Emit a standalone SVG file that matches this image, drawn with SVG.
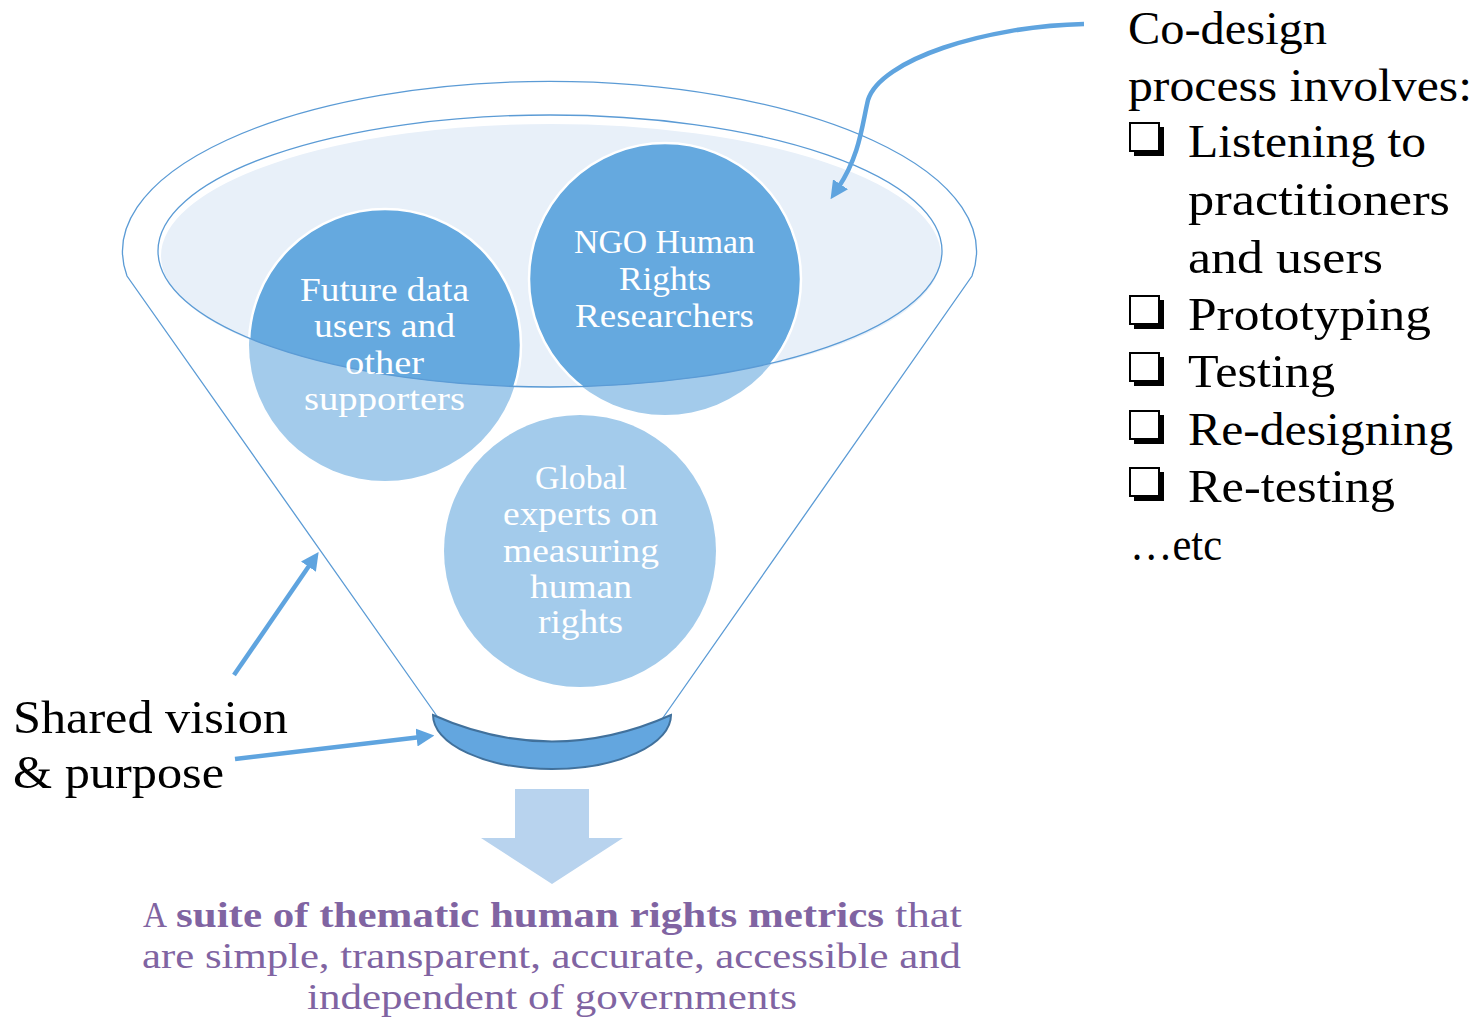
<svg xmlns="http://www.w3.org/2000/svg" width="1479" height="1019" viewBox="0 0 1479 1019">
  <style>
    .serif { font-family: "Liberation Serif", "Times New Roman", serif; }
    .label { font-size: 46px; fill: #000000; }
    .circle-text { font-size: 34px; fill: #ffffff; text-anchor: start; }
    .outcome { font-size: 36px; fill: #8064A2; }
    .outcome-bold { font-weight: bold; }
    .funnel-line { fill: none; stroke: #5B9BD5; stroke-width: 1.3; }
    .pointer { fill: none; stroke: #5FA4DF; stroke-width: 4.5; }
    .group-light { fill: #A3CBEB; }
    .group-dark { fill: #65A9DF; stroke: #ffffff; stroke-width: 2.5; }
  </style>
  <defs>
    <marker id="head" markerUnits="userSpaceOnUse" markerWidth="18" markerHeight="18" viewBox="0 0 16 16" refX="4" refY="8" orient="auto">
      <path d="M0,0 L16,8 L0,16 z" fill="#5FA4DF"/>
    </marker>
    <clipPath id="rim">
      <ellipse cx="550" cy="251" rx="392" ry="136"/>
    </clipPath>
    <!-- shadowed check box bullet -->
    <g id="box">
      <rect x="5" y="5" width="30" height="29" fill="#000000"/>
      <rect x="1" y="1" width="29" height="28" fill="#ffffff" stroke="#000000" stroke-width="2"/>
    </g>
  </defs>

  <rect width="1479" height="1019" fill="#ffffff"/>

  <!-- funnel body -->
  <g id="funnel">
    <path class="funnel-line" d="M439,719 L127,276 A427,170 0 1 1 972,276 L660,722"/>
    <ellipse cx="551" cy="256" rx="391" ry="133" fill="#E8F0F9" stroke="#ffffff" stroke-width="2"/>
  </g>

  <!-- contributor groups -->
  <g id="node-future">
    <circle class="group-light" cx="385" cy="345" r="136"/>
    <circle class="group-dark" cx="385" cy="345" r="136" clip-path="url(#rim)"/>
  </g>
  <g id="node-ngo">
    <circle class="group-light" cx="665" cy="279" r="136"/>
    <circle class="group-dark" cx="665" cy="279" r="136" clip-path="url(#rim)"/>
  </g>
  <g id="node-global">
    <circle class="group-light" cx="580" cy="551" r="136"/>
  </g>

  <!-- rim outline drawn over the groups -->
  <ellipse class="funnel-line" cx="550" cy="251" rx="392" ry="136"/>

  <g class="serif circle-text">
    <text x="300" y="301" textLength="169" lengthAdjust="spacingAndGlyphs">Future data</text>
    <text x="314" y="337" textLength="141" lengthAdjust="spacingAndGlyphs">users and</text>
    <text x="345" y="374" textLength="79" lengthAdjust="spacingAndGlyphs">other</text>
    <text x="304" y="410" textLength="161" lengthAdjust="spacingAndGlyphs">supporters</text>

    <text x="574" y="253" textLength="181" lengthAdjust="spacingAndGlyphs">NGO Human</text>
    <text x="619" y="290" textLength="92" lengthAdjust="spacingAndGlyphs">Rights</text>
    <text x="575" y="327" textLength="179" lengthAdjust="spacingAndGlyphs">Researchers</text>

    <text x="535" y="489" textLength="92" lengthAdjust="spacingAndGlyphs">Global</text>
    <text x="503" y="525" textLength="155" lengthAdjust="spacingAndGlyphs">experts on</text>
    <text x="503" y="562" textLength="156" lengthAdjust="spacingAndGlyphs">measuring</text>
    <text x="530" y="598" textLength="102" lengthAdjust="spacingAndGlyphs">human</text>
    <text x="538" y="633" textLength="85" lengthAdjust="spacingAndGlyphs">rights</text>
  </g>

  <!-- funnel outlet -->
  <g id="node-outlet">
    <path d="M433,715 Q552,768 671,715 A119,54 0 0 1 433,715 Z" fill="#63A6DF" stroke="#41719C" stroke-width="2"/>
  </g>

  <!-- output arrow -->
  <g id="node-output-arrow">
    <path d="M515,789 L589,789 L589,838 L623,838 L552,884 L481,838 L515,838 Z" fill="#B8D3EE"/>
  </g>

  <!-- connectors -->
  <g id="connectors">
    <path class="pointer" d="M1084,24 C985,26 880,60 868,100 C862,125 860,155 838,188" marker-end="url(#head)"/>
    <path class="pointer" d="M234,675 L311,563" marker-end="url(#head)"/>
    <path class="pointer" d="M235,759 L421,737" marker-end="url(#head)"/>
  </g>

  <!-- co-design notes -->
  <g id="node-codesign" class="serif label">
    <text x="1128" y="44" textLength="199" lengthAdjust="spacingAndGlyphs">Co-design</text>
    <text x="1128" y="101" textLength="344" lengthAdjust="spacingAndGlyphs">process involves:</text>
    <use href="#box" x="1129" y="122"/>
    <text x="1188" y="157" textLength="238" lengthAdjust="spacingAndGlyphs">Listening to</text>
    <text x="1188" y="215" textLength="262" lengthAdjust="spacingAndGlyphs">practitioners</text>
    <text x="1188" y="273" textLength="195" lengthAdjust="spacingAndGlyphs">and users</text>
    <use href="#box" x="1129" y="295"/>
    <text x="1188" y="330" textLength="243" lengthAdjust="spacingAndGlyphs">Prototyping</text>
    <use href="#box" x="1129" y="352"/>
    <text x="1188" y="387" textLength="147" lengthAdjust="spacingAndGlyphs">Testing</text>
    <use href="#box" x="1129" y="410"/>
    <text x="1188" y="445" textLength="265" lengthAdjust="spacingAndGlyphs">Re-designing</text>
    <use href="#box" x="1129" y="467"/>
    <text x="1188" y="502" textLength="207" lengthAdjust="spacingAndGlyphs">Re-testing</text>
    <text x="1130" y="560" textLength="92" lengthAdjust="spacingAndGlyphs">…etc</text>
  </g>

  <!-- shared vision label -->
  <g id="node-shared" class="serif label">
    <text x="13" y="733" textLength="275" lengthAdjust="spacingAndGlyphs">Shared vision</text>
    <text x="13" y="788" textLength="211" lengthAdjust="spacingAndGlyphs">&amp; purpose</text>
  </g>

  <!-- outcome statement -->
  <g id="node-outcome" class="serif outcome">
    <text x="143" y="927" textLength="24" lengthAdjust="spacingAndGlyphs">A</text>
    <text class="outcome-bold" x="176" y="927" textLength="708" lengthAdjust="spacingAndGlyphs">suite of thematic human rights metrics</text>
    <text x="895" y="927" textLength="67" lengthAdjust="spacingAndGlyphs">that</text>
    <text x="142" y="968" textLength="819" lengthAdjust="spacingAndGlyphs">are simple, transparent, accurate, accessible and</text>
    <text x="307" y="1009" textLength="490" lengthAdjust="spacingAndGlyphs">independent of governments</text>
  </g>
</svg>
